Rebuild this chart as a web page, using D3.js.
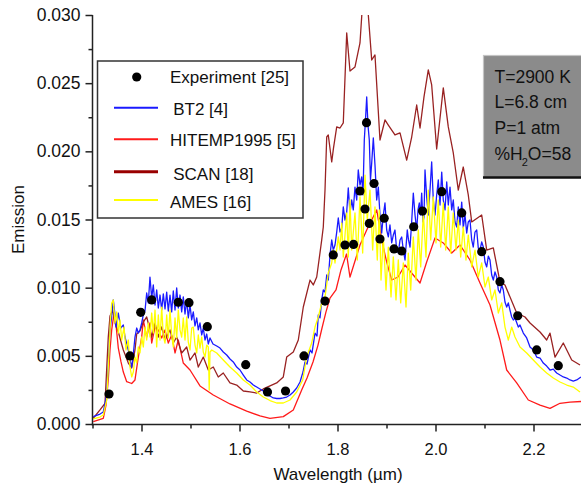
<!DOCTYPE html>
<html><head><meta charset="utf-8">
<script src="https://cdn.jsdelivr.net/npm/d3@7"></script>
<style>html,body{margin:0;padding:0;background:#fff;overflow:hidden}svg{display:block}text{font-family:"Liberation Sans",Arial,sans-serif;fill:#111}</style>
</head><body>
<svg id="c" width="581" height="486"></svg>
<script>
const xTicksMajor = [1.4, 1.6, 1.8, 2.0, 2.2];
const xTicksMinor = [1.3, 1.5, 1.7, 1.9, 2.1, 2.3];
const yTicksMajor = [0.000, 0.005, 0.010, 0.015, 0.020, 0.025, 0.030];
const yTicksMinor = [0.0025, 0.0075, 0.0125, 0.0175, 0.0225, 0.0275];
const seriesNames = ["Experiment [25]", " BT2 [4]", "HITEMP1995 [5]", " SCAN [18]", "AMES [16]"];
const infoLines = ["T=2900 K", "L=6.8 cm", "P=1 atm"];

const experiment = [[1.3337,0.00220],[1.3765,0.00499],[1.3984,0.00819],[1.4208,0.00910],[1.4751,0.00893],[1.4969,0.00890],[1.5343,0.00714],[1.6127,0.00435],[1.6571,0.00235],[1.6939,0.00242],[1.7316,0.00499],[1.7745,0.00902],[1.7914,0.01240],[1.8153,0.01313],[1.8327,0.01317],[1.8459,0.01709],[1.8561,0.01577],[1.8592,0.02210],[1.8649,0.01471],[1.8745,0.01764],[1.8867,0.01357],[1.8953,0.01509],[1.9153,0.01284],[1.9310,0.01269],[1.9555,0.01447],[1.9735,0.01562],[2.0127,0.01704],[2.0535,0.01548],[2.0943,0.01264],[2.1316,0.01044],[2.1678,0.00794],[2.2065,0.00543],[2.2506,0.00428]];

const hitemp = [[1.3016,0.00017],[1.3220,0.00042],[1.3276,0.00139],[1.3322,0.00323],[1.3357,0.00543],[1.3392,0.00690],[1.3439,0.00814],[1.3480,0.00726],[1.3527,0.00557],[1.3582,0.00455],[1.3629,0.00381],[1.3698,0.00310],[1.3800,0.00297],[1.3867,0.00323],[1.3935,0.00491],[1.4004,0.00638],[1.4037,0.00763],[1.4106,0.00638],[1.4173,0.00741],[1.4208,0.00594],[1.4276,0.00712],[1.4343,0.00690],[1.4412,0.00631],[1.4480,0.00690],[1.4547,0.00594],[1.4616,0.00653],[1.4684,0.00521],[1.4751,0.00616],[1.4853,0.00447],[1.4990,0.00396],[1.5194,0.00279],[1.5465,0.00213],[1.5806,0.00147],[1.6147,0.00095],[1.6418,0.00059],[1.6622,0.00042],[1.6894,0.00054],[1.7098,0.00103],[1.7269,0.00249],[1.7378,0.00337],[1.7500,0.00455],[1.7602,0.00579],[1.7684,0.00704],[1.7765,0.00822],[1.7847,0.00924],[1.7969,0.00983],[1.8071,0.01130],[1.8184,0.01247],[1.8255,0.01078],[1.8357,0.01196],[1.8459,0.01313],[1.8596,0.01423],[1.8698,0.01496],[1.8800,0.01570],[1.8902,0.01350],[1.9004,0.01188],[1.9106,0.01056],[1.9235,0.01078],[1.9378,0.01166],[1.9547,0.01093],[1.9684,0.01034],[1.9820,0.01188],[1.9990,0.01364],[2.0159,0.01328],[2.0331,0.01254],[2.0500,0.01313],[2.0704,0.01203],[2.0908,0.01034],[2.1112,0.00873],[2.1316,0.00616],[2.1453,0.00396],[2.1657,0.00301],[2.1894,0.00176],[2.2133,0.00139],[2.2337,0.00115],[2.2541,0.00152],[2.2745,0.00161],[2.2969,0.00165]];

const scan = [[1.3016,0.00042],[1.3153,0.00103],[1.3255,0.00152],[1.3322,0.00638],[1.3357,0.00792],[1.3412,0.00836],[1.3459,0.00741],[1.3527,0.00675],[1.3629,0.00543],[1.3731,0.00447],[1.3800,0.00411],[1.3867,0.00543],[1.3902,0.00660],[1.3969,0.00682],[1.4037,0.00748],[1.4106,0.00785],[1.4208,0.00638],[1.4276,0.00741],[1.4343,0.00638],[1.4412,0.00712],[1.4480,0.00616],[1.4582,0.00690],[1.4649,0.00594],[1.4718,0.00638],[1.4820,0.00521],[1.4922,0.00565],[1.4990,0.00469],[1.5092,0.00521],[1.5159,0.00418],[1.5261,0.00491],[1.5363,0.00396],[1.5465,0.00418],[1.5567,0.00345],[1.5669,0.00374],[1.5806,0.00301],[1.5943,0.00286],[1.6078,0.00242],[1.6214,0.00235],[1.6351,0.00227],[1.6486,0.00257],[1.6622,0.00279],[1.6759,0.00301],[1.6894,0.00345],[1.6963,0.00491],[1.7098,0.00528],[1.7200,0.00616],[1.7302,0.00858],[1.7439,0.01056],[1.7506,0.01020],[1.7576,0.01078],[1.7678,0.01350],[1.7710,0.01445],[1.7745,0.01716],[1.7780,0.02105],[1.7812,0.02120],[1.7882,0.01922],[1.7918,0.02024],[1.7984,0.02179],[1.8051,0.02171],[1.8118,0.02208],[1.8188,0.02868],[1.8255,0.02589],[1.8357,0.02619],[1.8459,0.02795],[1.8514,0.0310],[1.8608,0.0310],[1.8698,0.02670],[1.8765,0.02707],[1.8867,0.02083],[1.8969,0.02230],[1.9037,0.02193],[1.9173,0.02120],[1.9276,0.02135],[1.9412,0.01936],[1.9514,0.02105],[1.9616,0.02340],[1.9684,0.02171],[1.9765,0.02399],[1.9853,0.02597],[1.9922,0.02487],[2.0024,0.02017],[2.0159,0.02465],[2.0261,0.02179],[2.0363,0.01988],[2.0465,0.01716],[2.0567,0.01885],[2.0669,0.01680],[2.0739,0.01482],[2.0943,0.01533],[2.1045,0.01276],[2.1180,0.01291],[2.1316,0.01042],[2.1418,0.01020],[2.1657,0.00814],[2.1827,0.00785],[2.1929,0.00741],[2.2133,0.00675],[2.2269,0.00616],[2.2337,0.00667],[2.2439,0.00491],[2.2608,0.00594],[2.2780,0.00469],[2.2949,0.00433]];

const bt2 = [[1.3016,0.00054],[1.3153,0.00073],[1.3220,0.00088],[1.3290,0.00213],[1.3327,0.00469],[1.3357,0.00690],[1.3388,0.00778],[1.3424,0.00910],[1.3459,0.00800],[1.3480,0.00711],[1.3527,0.00814],[1.3576,0.00704],[1.3629,0.00726],[1.3663,0.00638],[1.3731,0.00543],[1.3765,0.00469],[1.3800,0.00418],[1.3833,0.00513],[1.3867,0.00638],[1.3902,0.00704],[1.3935,0.00667],[1.3969,0.00690],[1.4004,0.00741],[1.4037,0.00800],[1.4071,0.00829],[1.4106,0.00961],[1.4139,0.00888],[1.4173,0.01078],[1.4208,0.00924],[1.4241,0.01020],[1.4276,0.00873],[1.4310,0.00983],[1.4343,0.00851],[1.4378,0.00946],[1.4412,0.00836],[1.4445,0.00954],[1.4480,0.00844],[1.4514,0.00968],[1.4547,0.00829],[1.4582,0.00946],[1.4616,0.00822],[1.4649,0.00976],[1.4684,0.00836],[1.4718,0.00998],[1.4751,0.00851],[1.4786,0.00946],[1.4820,0.00822],[1.4853,0.00932],[1.4888,0.00807],[1.4922,0.00910],[1.4955,0.00778],[1.4990,0.00873],[1.5024,0.00763],[1.5057,0.00822],[1.5092,0.00719],[1.5127,0.00778],[1.5159,0.00690],[1.5194,0.00741],[1.5229,0.00653],[1.5261,0.00704],[1.5296,0.00616],[1.5331,0.00660],[1.5363,0.00587],[1.5398,0.00631],[1.5459,0.00587],[1.5535,0.00572],[1.5602,0.00557],[1.5669,0.00528],[1.5739,0.00506],[1.5806,0.00477],[1.5873,0.00455],[1.5943,0.00418],[1.6010,0.00396],[1.6078,0.00359],[1.6147,0.00323],[1.6214,0.00308],[1.6282,0.00286],[1.6351,0.00271],[1.6418,0.00257],[1.6486,0.00242],[1.6555,0.00213],[1.6622,0.00205],[1.6690,0.00191],[1.6759,0.00187],[1.6827,0.00187],[1.6894,0.00191],[1.6963,0.00198],[1.7031,0.00213],[1.7098,0.00235],[1.7167,0.00264],[1.7235,0.00308],[1.7296,0.00381],[1.7337,0.00455],[1.7378,0.00440],[1.7439,0.00543],[1.7480,0.00521],[1.7541,0.00667],[1.7582,0.00645],[1.7608,0.00800],[1.7643,0.00778],[1.7678,0.00910],[1.7710,0.00983],[1.7745,0.00968],[1.7780,0.01093],[1.7812,0.01056],[1.7847,0.01240],[1.7882,0.01350],[1.7914,0.01276],[1.7949,0.01313],[1.7984,0.01408],[1.8016,0.01511],[1.8051,0.01408],[1.8086,0.01438],[1.8118,0.01592],[1.8153,0.01496],[1.8188,0.01555],[1.8220,0.01731],[1.8255,0.01548],[1.8290,0.01643],[1.8322,0.01570],[1.8357,0.01738],[1.8392,0.01643],[1.8424,0.01863],[1.8459,0.01753],[1.8494,0.01812],[1.8520,0.01680],[1.8547,0.02083],[1.8571,0.02230],[1.8596,0.02399],[1.8622,0.02193],[1.8649,0.02083],[1.8673,0.01790],[1.8698,0.01914],[1.8731,0.02098],[1.8765,0.01900],[1.8800,0.01643],[1.8833,0.01738],[1.8867,0.01533],[1.8902,0.01401],[1.8935,0.01533],[1.8969,0.01621],[1.9004,0.01423],[1.9037,0.01372],[1.9071,0.01460],[1.9106,0.01328],[1.9139,0.01386],[1.9173,0.01423],[1.9208,0.01276],[1.9241,0.01254],[1.9276,0.01350],[1.9310,0.01372],[1.9343,0.01276],[1.9378,0.01203],[1.9424,0.01423],[1.9449,0.01350],[1.9480,0.01298],[1.9510,0.01460],[1.9547,0.01694],[1.9582,0.01533],[1.9616,0.01423],[1.9643,0.01570],[1.9669,0.01621],[1.9694,0.01533],[1.9718,0.01694],[1.9745,0.01482],[1.9765,0.01518],[1.9786,0.01863],[1.9820,0.01665],[1.9853,0.01533],[1.9888,0.01716],[1.9922,0.01922],[1.9955,0.01643],[1.9990,0.01533],[2.0024,0.01680],[2.0057,0.01790],[2.0092,0.01606],[2.0127,0.01848],[2.0159,0.01643],[2.0194,0.01570],[2.0229,0.01775],[2.0261,0.01606],[2.0296,0.01738],[2.0331,0.01570],[2.0363,0.01643],[2.0398,0.01482],[2.0433,0.01445],[2.0465,0.01592],[2.0500,0.01460],[2.0535,0.01628],[2.0567,0.01438],[2.0602,0.01533],[2.0637,0.01401],[2.0669,0.01482],[2.0704,0.01496],[2.0739,0.01350],[2.0771,0.01298],[2.0806,0.01408],[2.0841,0.01423],[2.0873,0.01291],[2.0908,0.01276],[2.0943,0.01335],[2.0976,0.01298],[2.1010,0.01188],[2.1045,0.01152],[2.1078,0.01232],[2.1112,0.01203],[2.1147,0.01093],[2.1180,0.01056],[2.1214,0.01115],[2.1249,0.01078],[2.1282,0.00983],[2.1316,0.00961],[2.1351,0.01020],[2.1384,0.00983],[2.1418,0.00895],[2.1453,0.00858],[2.1486,0.00888],[2.1520,0.00836],[2.1555,0.00785],[2.1588,0.00763],[2.1622,0.00778],[2.1690,0.00711],[2.1724,0.00726],[2.1792,0.00667],[2.1861,0.00631],[2.1929,0.00565],[2.1996,0.00543],[2.2065,0.00491],[2.2133,0.00484],[2.2200,0.00447],[2.2269,0.00425],[2.2337,0.00396],[2.2404,0.00403],[2.2473,0.00374],[2.2541,0.00359],[2.2608,0.00345],[2.2678,0.00337],[2.2745,0.00323],[2.2812,0.00315],[2.2882,0.00323],[2.2969,0.00345]];

const ames = [[1.3016,0.00037],[1.3153,0.00051],[1.3220,0.00066],[1.3290,0.00176],[1.3337,0.00528],[1.3367,0.00763],[1.3392,0.00888],[1.3424,0.00910],[1.3459,0.00741],[1.3494,0.00822],[1.3527,0.00667],[1.3561,0.00763],[1.3596,0.00616],[1.3643,0.00711],[1.3684,0.00543],[1.3731,0.00616],[1.3765,0.00418],[1.3800,0.00345],[1.3833,0.00381],[1.3867,0.00491],[1.3902,0.00447],[1.3935,0.00565],[1.3969,0.00521],[1.4004,0.00638],[1.4037,0.00565],[1.4071,0.00711],[1.4106,0.00616],[1.4139,0.00741],[1.4173,0.00638],[1.4208,0.00814],[1.4241,0.00667],[1.4276,0.00836],[1.4310,0.00565],[1.4343,0.00800],[1.4378,0.00616],[1.4412,0.00858],[1.4445,0.00645],[1.4480,0.00594],[1.4514,0.00800],[1.4547,0.00631],[1.4582,0.00836],[1.4616,0.00653],[1.4649,0.00565],[1.4684,0.00778],[1.4718,0.00631],[1.4751,0.00836],[1.4786,0.00690],[1.4820,0.00638],[1.4853,0.00778],[1.4888,0.00616],[1.4922,0.00785],[1.4955,0.00601],[1.4990,0.00543],[1.5024,0.00704],[1.5057,0.00711],[1.5092,0.00579],[1.5127,0.00521],[1.5159,0.00653],[1.5194,0.00557],[1.5229,0.00638],[1.5261,0.00528],[1.5296,0.00491],[1.5331,0.00579],[1.5363,0.00565],[1.5382,0.00249],[1.5398,0.00528],[1.5433,0.00543],[1.5535,0.00521],[1.5669,0.00469],[1.5806,0.00418],[1.5943,0.00374],[1.6078,0.00323],[1.6214,0.00286],[1.6351,0.00235],[1.6486,0.00198],[1.6622,0.00172],[1.6759,0.00154],[1.6894,0.00154],[1.7031,0.00176],[1.7167,0.00235],[1.7290,0.00323],[1.7371,0.00491],[1.7473,0.00594],[1.7541,0.00711],[1.7608,0.00785],[1.7678,0.00888],[1.7745,0.00932],[1.7812,0.01108],[1.7882,0.01181],[1.7914,0.01276],[1.7949,0.01181],[1.8016,0.01372],[1.8051,0.01276],[1.8086,0.01474],[1.8118,0.01225],[1.8188,0.01548],[1.8220,0.01225],[1.8255,0.01643],[1.8290,0.01276],[1.8357,0.01548],[1.8404,0.01203],[1.8459,0.01665],[1.8514,0.01254],[1.8561,0.01826],[1.8608,0.01496],[1.8663,0.01716],[1.8718,0.01276],[1.8765,0.01592],[1.8812,0.01203],[1.8853,0.01570],[1.8888,0.01056],[1.8935,0.01372],[1.8990,0.00983],[1.9037,0.01298],[1.9092,0.00932],[1.9139,0.01225],[1.9194,0.00910],[1.9241,0.01203],[1.9290,0.00888],[1.9343,0.01181],[1.9398,0.00858],[1.9445,0.01254],[1.9494,0.00983],[1.9547,0.01372],[1.9602,0.01056],[1.9649,0.01423],[1.9698,0.01152],[1.9751,0.01548],[1.9806,0.01225],[1.9853,0.01716],[1.9902,0.01350],[1.9955,0.01665],[2.0010,0.01328],[2.0057,0.01643],[2.0106,0.01298],[2.0159,0.01621],[2.0208,0.01276],[2.0261,0.01592],[2.0310,0.01254],[2.0363,0.01548],[2.0418,0.01276],[2.0465,0.01496],[2.0514,0.01225],[2.0567,0.01445],[2.0622,0.01203],[2.0669,0.01386],[2.0739,0.01152],[2.0806,0.01276],[2.0873,0.01078],[2.0943,0.01181],[2.1010,0.01005],[2.1078,0.01078],[2.1147,0.00910],[2.1214,0.00983],[2.1282,0.00814],[2.1351,0.00888],[2.1418,0.00711],[2.1486,0.00616],[2.1555,0.00711],[2.1622,0.00638],[2.1724,0.00565],[2.1861,0.00521],[2.1996,0.00469],[2.2133,0.00418],[2.2269,0.00374],[2.2404,0.00337],[2.2541,0.00308],[2.2678,0.00286],[2.2812,0.00271],[2.2949,0.00235]];

const svg = d3.select("#c");
const x = d3.scaleLinear().domain([1.3, 2.3]).range([92.5, 582.5]);
const y = d3.scaleLinear().domain([0, 0.030]).range([424, 15]);

svg.append("defs").append("clipPath").attr("id", "clip")
  .append("rect").attr("x", 92.5).attr("y", 15).attr("width", 490).attr("height", 415);

const line = d3.line().x(d => x(d[0])).y(d => y(d[1]));
const plot = svg.append("g").attr("clip-path", "url(#clip)");
const lw = 1.3;
plot.append("path").datum(hitemp).attr("d", line).attr("fill", "none").attr("stroke", "#ff1a1a").attr("stroke-width", lw).attr("stroke-linejoin", "round");
plot.append("path").datum(scan).attr("d", line).attr("fill", "none").attr("stroke", "#992222").attr("stroke-width", lw).attr("stroke-linejoin", "round");
plot.append("path").datum(bt2).attr("d", line).attr("fill", "none").attr("stroke", "#1a1aff").attr("stroke-width", lw).attr("stroke-linejoin", "round");
plot.append("path").datum(ames).attr("d", line).attr("fill", "none").attr("stroke", "#ffff00").attr("stroke-width", lw).attr("stroke-linejoin", "round");
plot.selectAll("circle.exp").data(experiment).join("circle").attr("class", "exp")
  .attr("cx", d => x(d[0])).attr("cy", d => y(d[1])).attr("r", 4.6).attr("fill", "#000");

// axes
const axColor = "#222";
const gx = svg.append("g").attr("transform", "translate(0,424.5)");
gx.call(d3.axisBottom(x).tickValues(xTicksMajor).tickFormat(d3.format(".1f")).tickSize(7).tickPadding(12));
const gxm = svg.append("g").attr("transform", "translate(0,424.5)");
gxm.call(d3.axisBottom(x).tickValues(xTicksMinor).tickFormat("").tickSize(4));
const gy = svg.append("g").attr("transform", "translate(92.5,0)");
gy.call(d3.axisLeft(y).tickValues(yTicksMajor).tickFormat(d3.format(".3f")).tickSize(7).tickPadding(5));
const gym = svg.append("g").attr("transform", "translate(92.5,0)");
gym.call(d3.axisLeft(y).tickValues(yTicksMinor).tickFormat("").tickSize(4));
[gx, gxm, gy, gym].forEach(g => {
  g.select(".domain").remove();
  g.selectAll("line").attr("stroke", axColor).attr("stroke-width", 1.5);
  g.selectAll("text").attr("fill", "#111").style("font-family", '"Liberation Sans", Arial, sans-serif');
});
gx.selectAll("text").style("font-size", "16.5px");
gy.selectAll("text").style("font-size", "17.5px");
svg.append("line").attr("x1", 92.5).attr("x2", 92.5).attr("y1", 15).attr("y2", 425.2).attr("stroke", axColor).attr("stroke-width", 1.5);
svg.append("line").attr("x1", 91.8).attr("x2", 581).attr("y1", 424.5).attr("y2", 424.5).attr("stroke", axColor).attr("stroke-width", 1.5);

svg.append("text").attr("x", 338).attr("y", 480).attr("text-anchor", "middle").style("font-size", "17px").text("Wavelength (\u00b5m)");
svg.append("text").attr("transform", "translate(24,219.5) rotate(-90)").attr("text-anchor", "middle").style("font-size", "17px").text("Emission");

// legend
const lg = svg.append("g");
lg.append("rect").attr("x", 97.5).attr("y", 61).attr("width", 205.5).attr("height", 157).attr("fill", "#fff").attr("stroke", "#333").attr("stroke-width", 1.5);
lg.append("circle").attr("cx", 136.7).attr("cy", 77).attr("r", 4.6).attr("fill", "#000");
const legLines = [
  {yy: 107.7, c: "#1a1aff", w: 2},
  {yy: 139.3, c: "#ff1a1a", w: 2},
  {yy: 171.7, c: "#990000", w: 3},
  {yy: 200, c: "#ffff00", w: 2.2}
];
legLines.forEach(l => lg.append("line").attr("x1", 114).attr("x2", 158).attr("y1", l.yy).attr("y2", l.yy).attr("stroke", l.c).attr("stroke-width", l.w));
const legText = [[170, 83.3], [168.5, 115], [170, 146], [168.5, 180], [170, 208.3]];
seriesNames.forEach((s, i) => lg.append("text").attr("x", legText[i][0]).attr("y", legText[i][1]).style("font-size", "17px").style("white-space", "pre").attr("xml:space", "preserve").text(s));

// info box
const ib = svg.append("g");
ib.append("rect").attr("x", 483.5).attr("y", 55.5).attr("width", 110).attr("height", 122).attr("fill", "#8b8b8b").attr("stroke", "#c4c4c4").attr("stroke-width", 1.2);
ib.append("line").attr("x1", 483).attr("x2", 581).attr("y1", 177.5).attr("y2", 177.5).attr("stroke", "#111").attr("stroke-width", 2.5);
const infoY = [82.7, 108.3, 134];
infoLines.forEach((t, i) => ib.append("text").attr("x", 494.5).attr("y", infoY[i]).style("font-size", "17.5px").text(t));
const h2o = ib.append("text").attr("x", 494.5).attr("y", 160).style("font-size", "17.5px");
h2o.append("tspan").text("%H");
h2o.append("tspan").attr("dy", 6).attr("dx", -1).style("font-size", "11px").text("2");
h2o.append("tspan").attr("dy", -6).text("O=58");
</script>
</body></html>
